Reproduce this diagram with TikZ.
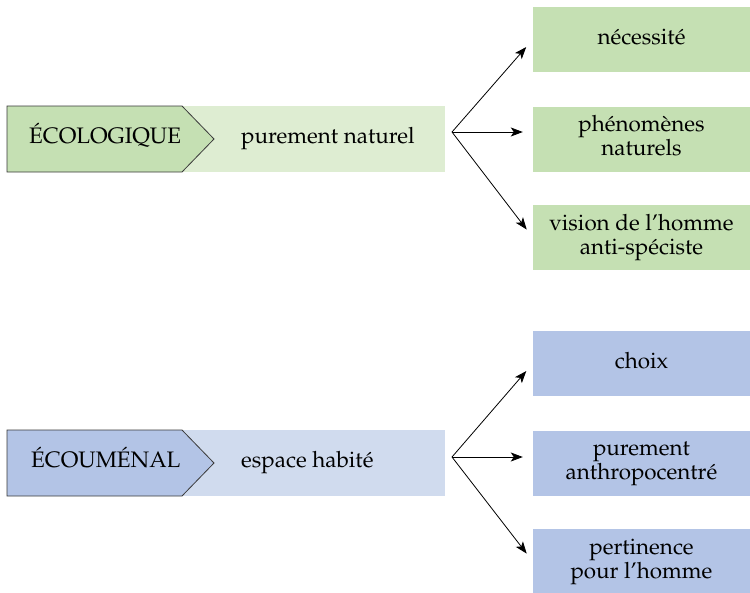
\documentclass[tikz,border=0pt]{standalone}
\usepackage[T1]{fontenc}
\usepackage{mathpazo}
\usetikzlibrary{arrows.meta}
\definecolor{greenbox}{HTML}{C5E0B3}
\definecolor{greenlight}{HTML}{DEEDD2}
\definecolor{bluebox}{HTML}{B3C4E6}
\definecolor{bluelight}{HTML}{D0DBEE}
\definecolor{edgegray}{HTML}{3A3A3A}
\tikzset{
  txt/.style={font=\fontsize{22.4}{24}\selectfont, inner sep=0pt, align=center},
  outcome/.style={txt, minimum width=217pt, minimum height=65pt},
  tag/.style={draw=edgegray, line width=0.8pt, line join=miter},
  branch/.style={-{Stealth[length=12pt,width=9pt,inset=3pt]}, line width=0.8pt, shorten >=10pt}
}
\begin{document}
\begin{tikzpicture}[x=1pt,y=-1pt]
\useasboundingbox (0,0) rectangle (750,592);

% ---- ecological branch ----
\fill[greenlight] (181,106) rectangle (445,172);
\draw[tag, fill=greenbox] (7,106) -- (182,106) -- (214,139) -- (182,172) -- (7,172) -- cycle;
\node[txt, anchor=base west] (eco) at (29,143.5) {ÉCOLOGIQUE};
\node[txt, anchor=base west] (nat) at (241,143) {purement naturel};
\coordinate (ecofork) at (452,132);

\node[outcome, fill=greenbox] (g1) at (641.5,39.5) {\strut nécessité};
\node[outcome, fill=greenbox] (g2) at (641.5,139) {\strut phénomènes\\\strut naturels};
\node[outcome, fill=greenbox] (g3) at (641.5,237.5) {\strut vision de l'homme\\\strut anti-spéciste};

\draw[branch] (ecofork) -- (g1.west);
\draw[branch] (ecofork) -- (g2.west |- ecofork);
\draw[branch] (ecofork) -- (g3.west);

% ---- ecumenal branch ----
\fill[bluelight] (181,430) rectangle (445,496);
\draw[tag, fill=bluebox] (7,430) -- (182,430) -- (214,463) -- (182,496) -- (7,496) -- cycle;
\node[txt, anchor=base west] (ecu) at (31,467.5) {ÉCOUMÉNAL};
\node[txt, anchor=base west] (hab) at (241,467) {espace habité};
\coordinate (ecufork) at (452,457);

\node[outcome, fill=bluebox] (b1) at (641.5,363.5) {\strut choix};
\node[outcome, fill=bluebox] (b2) at (641.5,463) {\strut purement\\\strut anthropocentré};
\node[outcome, fill=bluebox] (b3) at (641.5,561.5) {\strut pertinence\\\strut pour l'homme};

\draw[branch] (ecufork) -- (b1.west);
\draw[branch] (ecufork) -- (b2.west |- ecufork);
\draw[branch] (ecufork) -- (b3.west);
\end{tikzpicture}
\end{document}
